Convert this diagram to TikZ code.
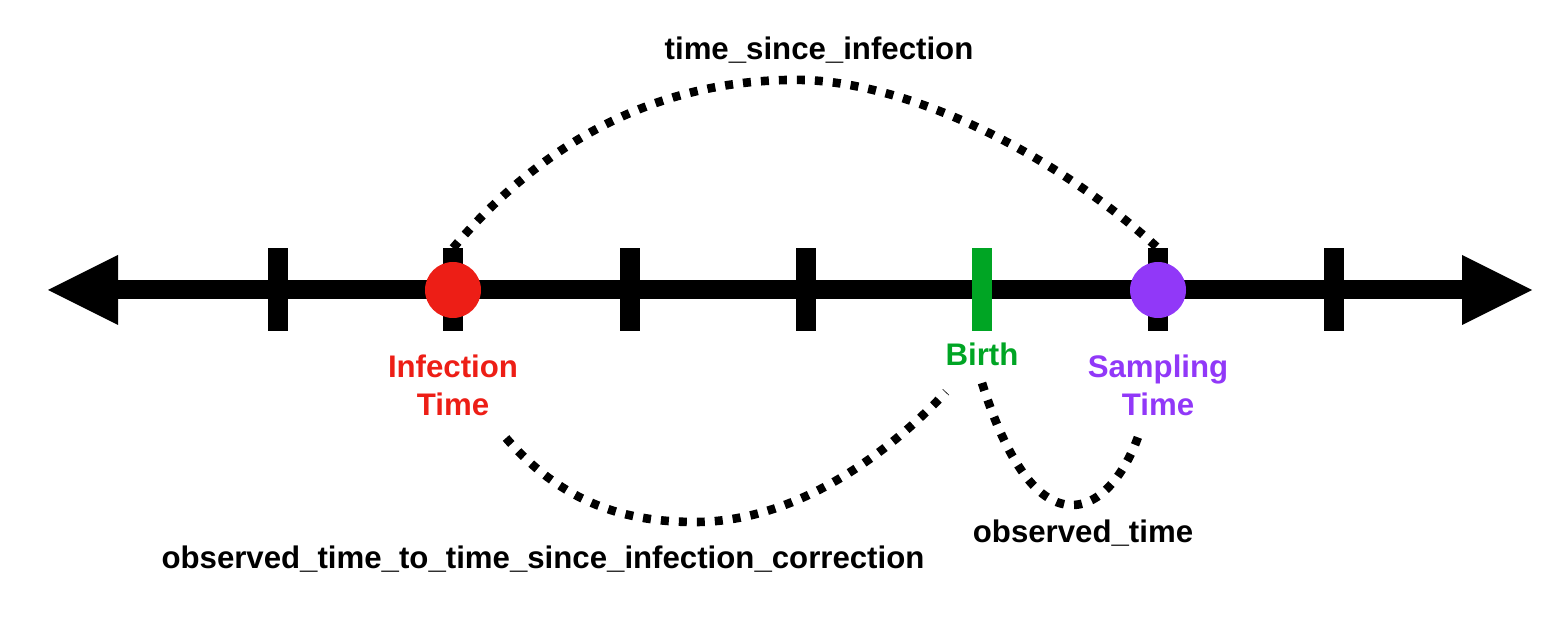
\documentclass[tikz,border=0pt]{standalone}
\usepackage{fontspec}
\setsansfont{Liberation Sans}
\usetikzlibrary{arrows.meta}
\definecolor{infred}{RGB}{237,30,22}
\definecolor{birthgreen}{RGB}{0,165,36}
\definecolor{sampurple}{RGB}{145,56,248}

\begin{document}
\begin{tikzpicture}[x=0.5pt,y=-0.5pt]
  \useasboundingbox (0,0) rectangle (1568,635);
  \tikzset{TickStyle/.style={rectangle,fill=black,inner sep=0pt,
           minimum width=10pt,minimum height=41.5pt}}
  \tikzset{DotStyle/.style={circle,inner sep=0pt,minimum size=28pt}}
  \tikzset{LabelStyle/.style={font=\sffamily\bfseries\fontsize{15.6}{19}\selectfont,
           align=center,inner sep=0pt}}
  \tikzset{CurveStyle/.style={line width=4.3pt,dash pattern=on 4pt off 5pt}}

  % axis
  \coordinate (L) at (48,290);
  \coordinate (R) at (1532,290);
  \draw[line width=9.5pt,
        {Triangle[length=35pt,width=35pt,line width=0pt]}-{Triangle[length=35pt,width=35pt,line width=0pt]}]
        (L) -- (R);

  % ticks
  \node[TickStyle] (t1) at (278,290) {};
  \node[TickStyle] (t2) at (453,290) {};
  \node[TickStyle] (t3) at (630,290) {};
  \node[TickStyle] (t4) at (806,290) {};
  \node[TickStyle,fill=birthgreen] (t5) at (982,290) {};
  \node[TickStyle] (t6) at (1158,290) {};
  \node[TickStyle] (t7) at (1334,290) {};

  % events
  \node[DotStyle,fill=infred] (inf) at (t2) {};
  \node[DotStyle,fill=sampurple] (samp) at (t6) {};

  \node[LabelStyle,text=infred] (inflab) at (453,385) {Infection\\Time};
  \node[LabelStyle,text=birthgreen,anchor=base] (birthlab) at (982,366) {Birth};
  \node[LabelStyle,text=sampurple] (samplab) at (1158,385) {Sampling\\Time};

  % spans
  \node[LabelStyle,anchor=base] (tsi) at (819,60) {time\_since\_infection};
  \node[LabelStyle,anchor=base] (corr) at (543,568)
    {observed\_time\_to\_time\_since\_infection\_correction};
  \node[LabelStyle,anchor=base] (obs) at (1083,543) {observed\_time};

  \coordinate (corrA) at (506,438);
  \coordinate (corrB) at (946,392);
  \coordinate (obsA) at (982,383);
  \coordinate (obsB) at (1138,437);

  \draw[CurveStyle] (t2.north) .. controls (570,110) and (700,78) .. (805,80)
                               .. controls (910,84) and (1050,150) .. (t6.north);
  \draw[CurveStyle] (corrA) .. controls (560,500) and (620,522) .. (695,522)
                            .. controls (790,522) and (880,462) .. (corrB);
  \draw[CurveStyle] (obsA) .. controls (1000,440) and (1030,505) .. (1072,505)
                           .. controls (1105,505) and (1128,465) .. (obsB);
\end{tikzpicture}
\end{document}
